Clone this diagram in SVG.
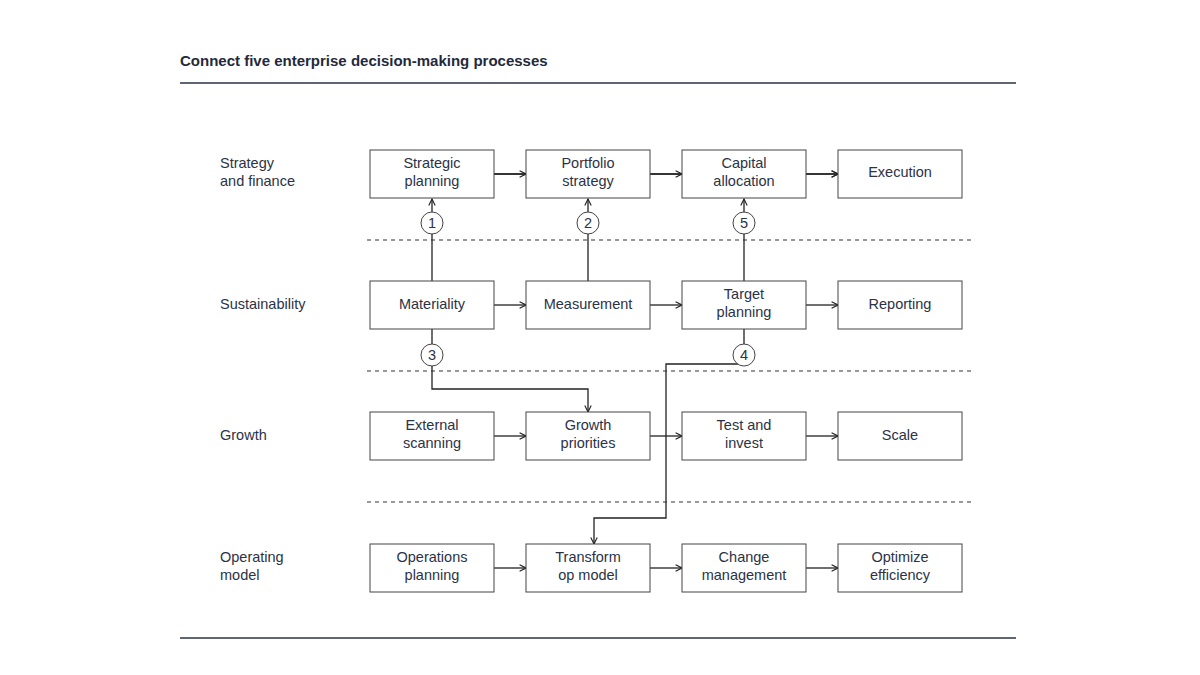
<svg xmlns="http://www.w3.org/2000/svg" width="1200" height="675" viewBox="0 0 1200 675">
<style>
text{font-family:"Liberation Sans",Arial,sans-serif;fill:#2b3245;font-size:14.5px}
.t{font-weight:bold;font-size:15px;fill:#1f2a3c}
.c{text-anchor:middle}
.b{fill:#fff;stroke:#444;stroke-width:1}
.l{stroke:#222;stroke-width:1.3;fill:none}
.d{stroke:#333;stroke-width:1.2;stroke-dasharray:4 4}
.ci{fill:#fff;stroke:#444;stroke-width:1}
.r{stroke:#2b3245;stroke-width:1.5}
</style>
<defs><marker id="a" viewBox="0 0 10 10" refX="9" refY="5" markerWidth="8" markerHeight="8" orient="auto" markerUnits="userSpaceOnUse"><path d="M1,1 L9,5 L1,9" fill="none" stroke="#222" stroke-width="1.4"/></marker></defs>
<rect width="1200" height="675" fill="#fff"/>
<text x="180" y="66" class="t">Connect five enterprise decision-making processes</text>
<line x1="180" y1="83" x2="1016" y2="83" class="r"/>
<line x1="180" y1="638" x2="1016" y2="638" class="r"/>
<g id="lanes">
<text x="220" y="168">Strategy</text><text x="220" y="186">and finance</text>
<text x="220" y="309">Sustainability</text>
<text x="220" y="440">Growth</text>
<text x="220" y="562">Operating</text><text x="220" y="580">model</text>
<line x1="367" y1="240" x2="975" y2="240" class="d"/>
<line x1="367" y1="371" x2="975" y2="371" class="d"/>
<line x1="367" y1="502" x2="975" y2="502" class="d"/>
</g>
<g id="connectors">
<path d="M494,174H526M650,174H682M806,174H838" class="l" marker-end="url(#a)"/>
<line x1="494" y1="174" x2="526" y2="174" class="l" marker-end="url(#a)"/>
<line x1="650" y1="174" x2="682" y2="174" class="l" marker-end="url(#a)"/>
<line x1="806" y1="174" x2="838" y2="174" class="l" marker-end="url(#a)"/>
<line x1="494" y1="305" x2="526" y2="305" class="l" marker-end="url(#a)"/>
<line x1="650" y1="305" x2="682" y2="305" class="l" marker-end="url(#a)"/>
<line x1="806" y1="305" x2="838" y2="305" class="l" marker-end="url(#a)"/>
<line x1="494" y1="436" x2="526" y2="436" class="l" marker-end="url(#a)"/>
<line x1="650" y1="436" x2="682" y2="436" class="l" marker-end="url(#a)"/>
<line x1="806" y1="436" x2="838" y2="436" class="l" marker-end="url(#a)"/>
<line x1="494" y1="568" x2="526" y2="568" class="l" marker-end="url(#a)"/>
<line x1="650" y1="568" x2="682" y2="568" class="l" marker-end="url(#a)"/>
<line x1="806" y1="568" x2="838" y2="568" class="l" marker-end="url(#a)"/>
<line x1="432" y1="281" x2="432" y2="199" class="l" marker-end="url(#a)"/>
<line x1="588" y1="281" x2="588" y2="199" class="l" marker-end="url(#a)"/>
<line x1="744" y1="281" x2="744" y2="199" class="l" marker-end="url(#a)"/>
<path d="M432,329V389H588V412" class="l" marker-end="url(#a)"/>
<path d="M744,329V364H666V518H594V544" class="l" marker-end="url(#a)"/>
</g>
<g id="badges">
<circle cx="432" cy="223" r="11" class="ci"/><text x="432" y="228" class="c">1</text>
<circle cx="588" cy="223" r="11" class="ci"/><text x="588" y="228" class="c">2</text>
<circle cx="744" cy="223" r="11" class="ci"/><text x="744" y="228" class="c">5</text>
<circle cx="432" cy="355" r="11" class="ci"/><text x="432" y="360" class="c">3</text>
<circle cx="744" cy="355" r="11" class="ci"/><text x="744" y="360" class="c">4</text>
</g>
<g id="n1"><rect x="370" y="150" width="124" height="48" class="b"/><text x="432" y="168" class="c">Strategic</text><text x="432" y="186" class="c">planning</text></g>
<g id="n2"><rect x="526" y="150" width="124" height="48" class="b"/><text x="588" y="168" class="c">Portfolio</text><text x="588" y="186" class="c">strategy</text></g>
<g id="n3"><rect x="682" y="150" width="124" height="48" class="b"/><text x="744" y="168" class="c">Capital</text><text x="744" y="186" class="c">allocation</text></g>
<g id="n4"><rect x="838" y="150" width="124" height="48" class="b"/><text x="900" y="177" class="c">Execution</text></g>
<g id="n5"><rect x="370" y="281" width="124" height="48" class="b"/><text x="432" y="309" class="c">Materiality</text></g>
<g id="n6"><rect x="526" y="281" width="124" height="48" class="b"/><text x="588" y="309" class="c">Measurement</text></g>
<g id="n7"><rect x="682" y="281" width="124" height="48" class="b"/><text x="744" y="299" class="c">Target</text><text x="744" y="317" class="c">planning</text></g>
<g id="n8"><rect x="838" y="281" width="124" height="48" class="b"/><text x="900" y="309" class="c">Reporting</text></g>
<g id="n9"><rect x="370" y="412" width="124" height="48" class="b"/><text x="432" y="430" class="c">External</text><text x="432" y="448" class="c">scanning</text></g>
<g id="n10"><rect x="526" y="412" width="124" height="48" class="b"/><text x="588" y="430" class="c">Growth</text><text x="588" y="448" class="c">priorities</text></g>
<g id="n11"><rect x="682" y="412" width="124" height="48" class="b"/><text x="744" y="430" class="c">Test and</text><text x="744" y="448" class="c">invest</text></g>
<g id="n12"><rect x="838" y="412" width="124" height="48" class="b"/><text x="900" y="440" class="c">Scale</text></g>
<g id="n13"><rect x="370" y="544" width="124" height="48" class="b"/><text x="432" y="562" class="c">Operations</text><text x="432" y="580" class="c">planning</text></g>
<g id="n14"><rect x="526" y="544" width="124" height="48" class="b"/><text x="588" y="562" class="c">Transform</text><text x="588" y="580" class="c">op model</text></g>
<g id="n15"><rect x="682" y="544" width="124" height="48" class="b"/><text x="744" y="562" class="c">Change</text><text x="744" y="580" class="c">management</text></g>
<g id="n16"><rect x="838" y="544" width="124" height="48" class="b"/><text x="900" y="562" class="c">Optimize</text><text x="900" y="580" class="c">efficiency</text></g>
</svg>
